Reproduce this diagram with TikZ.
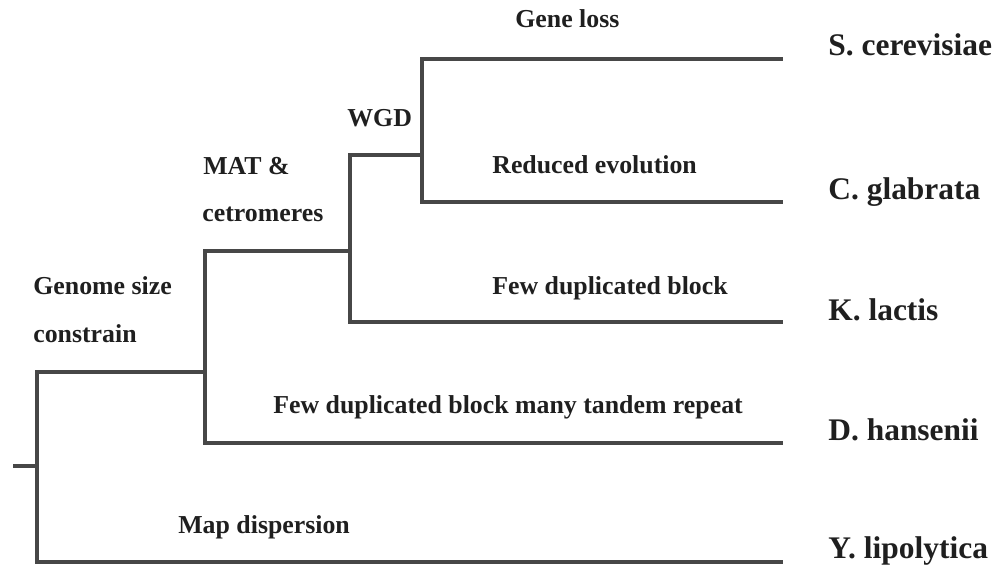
\documentclass[tikz,border=0pt]{standalone}
\usepackage{fontspec}
\setmainfont{Liberation Serif}
\begin{document}
\begin{tikzpicture}[
  x=0.02cm, y=-0.02cm,
  branch/.style={line width=2.3pt, draw=black!72, line cap=butt},
  event/.style={font=\fontsize{14.7}{16}\selectfont\bfseries, text=black!88, inner sep=0pt, anchor=base west},
  taxon/.style={font=\fontsize{17.9}{20}\selectfont\bfseries, text=black!88, inner sep=0pt, anchor=base west}
]
\useasboundingbox (0,0) rectangle (999,567);

% Internal nodes and tips.
\def\tipx{783}
\coordinate (stub) at (13,466);
\coordinate (n0) at (37,466);
\coordinate (n1) at (205,372);
\coordinate (n2) at (350,251);
\coordinate (n3) at (422,155);
\coordinate (scer) at (\tipx,59);
\coordinate (cgla) at (\tipx,202);
\coordinate (klac) at (\tipx,322);
\coordinate (dhan) at (\tipx,443);
\coordinate (ylip) at (\tipx,562);

% Branches.
\draw[branch] (stub) -- (n0);
\draw[branch] (n0) |- (n1);
\draw[branch] (n0) |- (ylip);
\draw[branch] (n1) |- (n2);
\draw[branch] (n1) |- (dhan);
\draw[branch] (n2) |- (n3);
\draw[branch] (n2) |- (klac);
\draw[branch] (n3) |- (scer);
\draw[branch] (n3) |- (cgla);

% Species names.
\node[taxon] (lscer) at (828,56) {S. cerevisiae};
\node[taxon] (lcgla) at (828,200) {C. glabrata};
\node[taxon] (lklac) at (828,320) {K. lactis};
\node[taxon] (ldhan) at (828,440) {D. hansenii};
\node[taxon] (lylip) at (828,558) {Y. lipolytica};

% Events on the branches.
\node[event] (geneloss) at (515,28) {Gene loss};
\node[event] (wgd) at (347,127) {WGD};
\node[event] (mat) at (203,175) {MAT \&};
\node[event] (centro) at (202,222) {cetromeres};
\node[event] (reduced) at (492,174) {Reduced evolution};
\node[event] (fewdup) at (492,294) {Few duplicated block};
\node[event] (gsize) at (33,294) {Genome size};
\node[event] (constr) at (33,342) {constrain};
\node[event] (tandem) at (273,413) {Few duplicated block many tandem repeat};
\node[event] (mapdisp) at (178,533) {Map dispersion};

\end{tikzpicture}
\end{document}
